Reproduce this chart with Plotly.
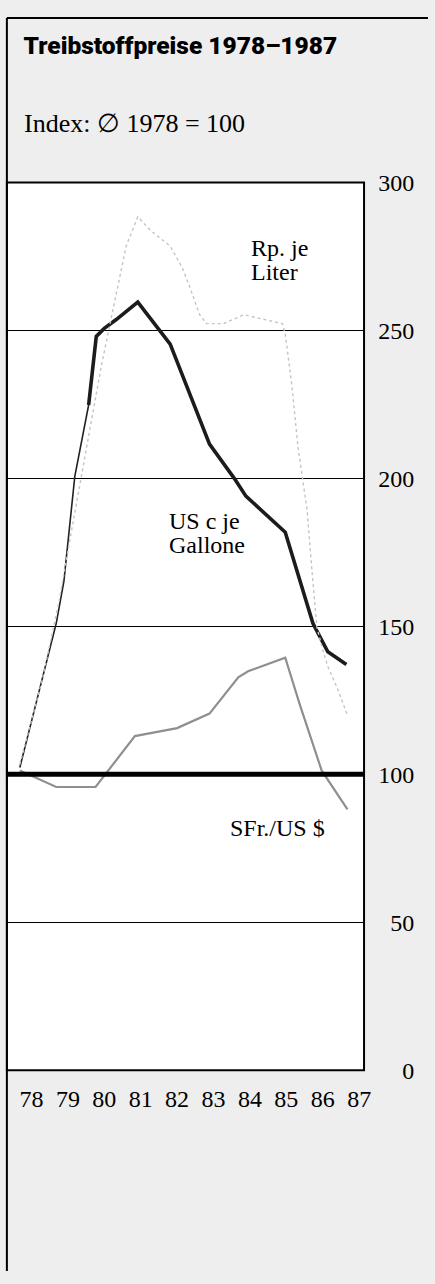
import plotly.graph_objects as go

# ---- data ----
years_labels = ["78", "79", "80", "81", "82", "83", "84", "85", "86", "87"]
tick_years = [78, 79, 80, 81, 82, 83, 84, 85, 86, 87]
y_ticks = [0, 50, 100, 150, 200, 250, 300]

# US c je Gallone
usc_x = [77.68, 78.30, 78.68, 78.89, 79.19, 79.57, 79.78, 80.00, 80.32, 80.92,
         81.81, 82.89, 83.57, 83.89, 84.97, 85.73, 86.14, 86.65]
usc_y = [102.3, 132.1, 151.0, 165.2, 200.7, 224.8, 248.0, 250.7, 253.6, 259.6,
         245.4, 211.6, 200.0, 194.0, 181.8, 151.0, 141.4, 137.1]

# Rp. je Liter
rp_x = [77.68, 78.30, 78.76, 79.03, 79.92, 80.30, 80.60, 80.92, 81.27, 81.81,
        82.14, 82.35, 82.62, 82.81, 83.27, 83.84, 84.89, 84.97, 85.16, 85.32,
        85.46, 85.57, 85.70, 85.84, 86.00, 86.14, 86.41, 86.68]
rp_y = [103.3, 132.1, 158.6, 177.5, 238.1, 260.3, 278.5, 288.4, 283.8, 278.5,
        271.2, 264.6, 255.3, 252.3, 252.3, 255.3, 252.3, 249.0, 230.5, 210.6,
        199.3, 189.4, 169.5, 149.7, 142.1, 136.4, 128.8, 119.9]

# SFr./US $
sfr_x = [77.68, 78.22, 78.68, 79.76, 80.11, 80.30, 80.84, 82.00, 82.89, 83.68,
         83.95, 84.97, 85.38, 85.97, 86.68]
sfr_y = [101.3, 98.3, 95.7, 95.7, 101.3, 104.6, 112.9, 115.6, 120.5, 132.8,
         134.8, 139.4, 123.2, 101.3, 88.1]

base_value = 100

W, H = 435, 1284
x_left_px, x_right_px = 7, 370
y_top_px, y_bot_px = 173, 1079

fig = go.Figure()

fig.add_trace(go.Scatter(x=sfr_x, y=sfr_y, mode="lines",
                         line=dict(color="#8f8f8f", width=2.2), hoverinfo="skip"))
k = 5
fig.add_trace(go.Scatter(x=usc_x[:k + 1], y=usc_y[:k + 1], mode="lines",
                         line=dict(color="#222222", width=1.6), hoverinfo="skip"))
fig.add_trace(go.Scatter(x=usc_x[k:], y=usc_y[k:], mode="lines",
                         line=dict(color="#1c1c1c", width=3.6), hoverinfo="skip"))
fig.add_trace(go.Scatter(x=rp_x, y=rp_y, mode="lines",
                         line=dict(color="#c4c4c4", width=1.4, dash="dot"), hoverinfo="skip"))

# thick line at index 100
fig.add_shape(type="line", xref="x domain", yref="y", x0=0, x1=1,
              y0=base_value, y1=base_value, line=dict(color="black", width=5))

# frame of plot
fig.add_shape(type="rect", xref="x domain", yref="y domain", x0=0, x1=1, y0=0, y1=1,
              line=dict(color="black", width=2))
# outer page border (left + top)
top_paper = 1 - 5 / H
fig.add_shape(type="line", xref="paper", yref="paper", x0=x_left_px / W, x1=x_left_px / W,
              y0=0, y1=top_paper, line=dict(color="black", width=2))
fig.add_shape(type="line", xref="paper", yref="paper", x0=x_left_px / W, x1=1,
              y0=top_paper, y1=top_paper, line=dict(color="black", width=2))

serif = "Liberation Serif, Times New Roman, serif"

x_min = 78 + (x_left_px - 32) / 37
x_max = 78 + (x_right_px - 32) / 37

fig.update_layout(
    width=W, height=H,
    margin=dict(l=0, r=0, t=0, b=0),
    paper_bgcolor="#eeeeee",
    plot_bgcolor="white",
    showlegend=False,
    title=dict(text="Treibstoffpreise 1978–1987",
               x=24 / W, xanchor="left", xref="paper",
               y=1 - 33 / H, yanchor="middle", yref="paper",
               font=dict(family="Roboto", size=24.5, weight=900, color="black")),
    xaxis=dict(domain=[x_left_px / W, x_right_px / W], range=[x_min, x_max],
               tickvals=tick_years, ticktext=years_labels, showgrid=False,
               zeroline=False, showline=False, ticks="", ticklabelstandoff=12,
               tickfont=dict(family=serif, size=24, color="black")),
    yaxis=dict(domain=[1 - y_bot_px / H, 1 - y_top_px / H], range=[0, 300],
               tickvals=y_ticks, showgrid=True, gridcolor="black", gridwidth=1.4,
               zeroline=False, showline=False, ticks="",
               anchor="free", position=421 / W, side="left",
               tickfont=dict(family=serif, size=24, color="black")),
)

fig.add_annotation(text="Index: ∅ 1978 = 100", xref="paper", yref="paper",
                   x=22 / W, y=1 - 113 / H, xanchor="left", yanchor="middle",
                   showarrow=False, font=dict(family=serif, size=26, color="black"))

labels = [("Rp. je", 253, 240), ("Liter", 253, 264),
          ("US c je", 170, 519), ("Gallone", 170, 543),
          ("SFr./US $", 232, 832)]
for txt, px, py in labels:
    fig.add_annotation(text=txt, xref="paper", yref="paper",
                       x=px / W, y=1 - py / H, xanchor="left", yanchor="middle",
                       showarrow=False, font=dict(family=serif, size=24, color="black"))

fig.write_html("out.html", config={"displayModeBar": False},
               post_script="document.body.style.margin='0px';document.body.style.overflow='hidden';")
